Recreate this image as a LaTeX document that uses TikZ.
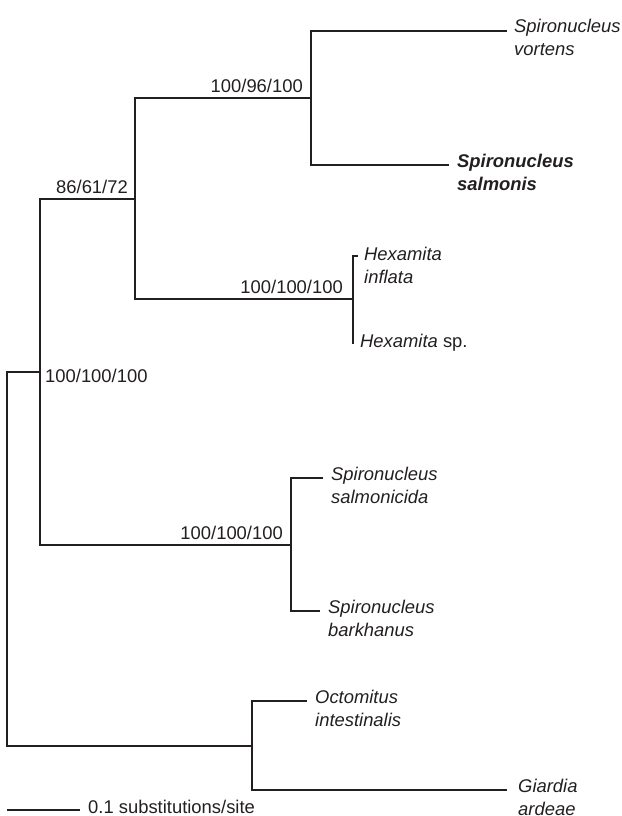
\documentclass[tikz,border=0pt]{standalone}
\usepackage{fontspec}
\setmainfont{Liberation Sans}
\definecolor{inchiostro}{RGB}{35,31,32}
\newcommand{\fontalbero}{\fontsize{18.4bp}{23bp}\selectfont}
\tikzset{
  ramo/.style={line width=1.3bp, draw=inchiostro},
  taxon/.style={anchor=base west, align=left, inner sep=0pt, text=inchiostro, font=\fontalbero\itshape},
  supporto/.style={anchor=base east, inner sep=0pt, text=inchiostro, font=\fontalbero},
}
\begin{document}
\begin{tikzpicture}[x=1bp, y=-1bp]
        \useasboundingbox (0,0) rectangle (622,816);

        % Nodi interni
        \coordinate (r) at (7,559);
        \coordinate (A) at (40,372);
        \coordinate (B) at (135,199);
        \coordinate (C) at (311,98);
        \coordinate (H) at (353,299);
        \coordinate (S) at (291,545);
        \coordinate (O) at (252,746);

        % Estremi dei rami terminali
        \coordinate (t-vortens) at (507,31);
        \coordinate (t-salmonis) at (449,165);
        \coordinate (t-inflata) at (358,256);
        \coordinate (t-hexsp) at (353,344);
        \coordinate (t-salmonicida) at (323,478);
        \coordinate (t-barkhanus) at (320,611);
        \coordinate (t-octomitus) at (307,701);
        \coordinate (t-giardia) at (507,790);

        % Rami
        \draw[ramo] (t-vortens) -| (C) |- (t-salmonis);
        \draw[ramo] (t-inflata) -| (H) |- (t-hexsp);
        \draw[ramo] (C) -| (B) |- (H);
        \draw[ramo] (t-salmonicida) -| (S) |- (t-barkhanus);
        \draw[ramo] (B) -| (A) |- (S);
        \draw[ramo] (t-octomitus) -| (O) |- (t-giardia);
        \draw[ramo] (A) -| (r) |- (O);

        % Taxa (base = seconda riga)
        \node[taxon] (vortens) at (514,56) {Spironucleus\\vortens};
        \node[taxon, font=\fontalbero\bfseries\itshape] (salmonis) at (457,190) {Spironucleus\\salmonis};
        \node[taxon] (inflata) at (364,283) {Hexamita\\inflata};
        \node[taxon] (hexsp) at (360,347) {Hexamita \upshape sp.};
        \node[taxon] (salmonicida) at (331,503) {Spironucleus\\salmonicida};
        \node[taxon] (barkhanus) at (328,636) {Spironucleus\\barkhanus};
        \node[taxon] (octomitus) at (315,726) {Octomitus\\intestinalis};
        \node[taxon] (giardia) at (518,815) {Giardia\\ardeae};

        % Valori di supporto
        \node[supporto] (s-C) at (303,92.5) {100/96/100};
        \node[supporto] (s-B) at (128,193.5) {86/61/72};
        \node[supporto] (s-H) at (343,293.5) {100/100/100};
        \node[supporto] (s-S) at (283,539.5) {100/100/100};
        \node[supporto, anchor=base west] (s-A) at (45,382.5) {100/100/100};

        % Barra di scala
        \coordinate (sb-a) at (7,810);
        \coordinate (sb-b) at (80,810);
        \draw[ramo] (sb-a) -- (sb-b);
        \node[supporto, anchor=base west] (scala) at (88,813) {0.1 substitutions/site};
    \end{tikzpicture}
\end{document}
